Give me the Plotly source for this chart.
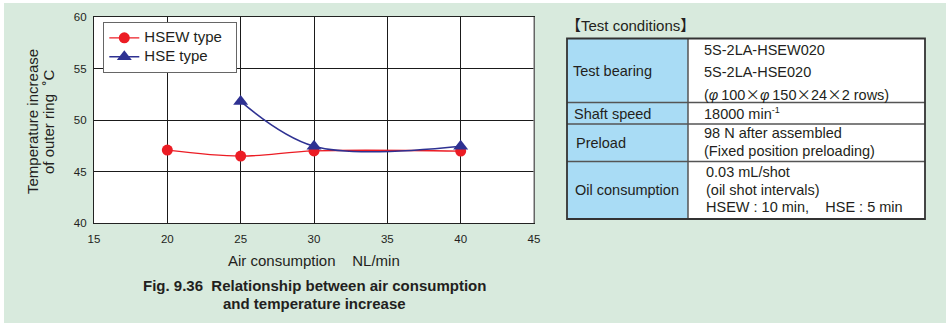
import plotly.graph_objects as go

# ---- data ----
air_hsew = [20, 25, 30, 40]
temp_hsew = [47.08, 46.5, 47.0, 46.98]
air_hse = [25, 30, 40]
temp_hse = [51.8, 47.45, 47.45]
x_ticks = [15, 20, 25, 30, 35, 40, 45]
y_ticks = [40, 45, 50, 55, 60]
series_names = ["HSEW type", "HSE type"]

CJK_X = "<span style='font-family:Noto Sans CJK JP'>×</span>"
table_title = "【Test conditions】"
row_labels = ["Test bearing", "Shaft speed", "Preload", "Oil consumption"]
row_values = [
    ["5S-2LA-HSEW020", "5S-2LA-HSE020",
     "(<i>φ</i>\u2009100" + CJK_X + "<i>φ</i>\u2009150" + CJK_X + "24" + CJK_X + "2 rows)"],
    ["18000 min<sup><span style='font-size:9px'>-1</span></sup>"],
    ["98 N after assembled", "(Fixed position preloading)"],
    ["0.03 mL/shot", "(oil shot intervals)",
     "HSEW : 10 min,\u00a0\u00a0\u00a0\u00a0HSE : 5 min"],
]
x_title = "Air consumption\u00a0\u00a0\u00a0\u00a0NL/min"
y_title_lines = ["Temperature increase", "of outer ring\u00a0\u00a0˚C"]
caption_lines = ["Fig. 9.36\u00a0\u00a0Relationship between air consumption",
                 "and temperature increase"]

# ---- page geometry (pixels) ----
W, H = 946, 323
PL, PR, PT, PB = 94, 534, 17, 223          # plot area edges
BG = "#d8eadd"
TXT = "#231f20"
FONT = "Liberation Sans, Arial, sans-serif"


def fx(px):
    return (px - PL) / (PR - PL)


def fy(py):
    return (PB - py) / (PB - PT)


def legend_label(name):
    # larger glyphs on a compact legend row
    return "<span style='font-size:15px'>" + name + "\u00a0\u00a0</span>"


fig = go.Figure()
fig.add_trace(go.Scatter(
    x=air_hsew, y=temp_hsew, name=legend_label(series_names[0]), mode="lines+markers",
    line=dict(color="#ec1c24", width=1.3, shape="spline"),
    marker=dict(symbol="circle", size=11, color="#ec1c24"),
))
fig.add_trace(go.Scatter(
    x=air_hse, y=temp_hse, name=legend_label(series_names[1]), mode="lines+markers",
    line=dict(color="#2e3192", width=1.6, shape="spline"),
    marker=dict(symbol="triangle-up", size=13, color="#2e3192"),
))

axis_common = dict(
    showgrid=True, gridcolor="#1a1a1a", gridwidth=1,
    showline=True, linecolor="#222", linewidth=1.3, mirror=True,
    zeroline=False, ticks="", tickfont=dict(size=11.5, color=TXT, family=FONT),
)
fig.update_xaxes(range=[15, 45], tickvals=x_ticks, ticklabelstandoff=5, **axis_common)
fig.update_yaxes(range=[40, 60], tickvals=y_ticks, ticklabelstandoff=4, **axis_common)

shapes = []
annotations = []

# white page edge
shapes.append(dict(type="rect", xref="paper", yref="paper", x0=fx(0), x1=fx(4),
                   y0=fy(0), y1=fy(H), fillcolor="white", line_width=0))
shapes.append(dict(type="rect", xref="paper", yref="paper", x0=fx(0), x1=fx(W),
                   y0=fy(0), y1=fy(3), fillcolor="white", line_width=0))
# lighter right border of the plot frame
shapes.append(dict(type="line", xref="paper", yref="paper", x0=1, x1=1, y0=0, y1=1,
                   line=dict(color="#8a8a8a", width=1.3), layer="above"))

# axis titles and caption
for i, line in enumerate(y_title_lines):
    annotations.append(dict(text=line, xref="paper", yref="paper",
                            x=fx(32 + 16 * i), y=fy(122), textangle=-90,
                            showarrow=False, xanchor="center", yanchor="middle",
                            font=dict(size=15, color=TXT, family=FONT)))
annotations.append(dict(text=x_title, xref="paper", yref="paper",
                        x=fx(314), y=fy(260), showarrow=False,
                        xanchor="center", yanchor="middle",
                        font=dict(size=15, color=TXT, family=FONT)))
for i, line in enumerate(caption_lines):
    annotations.append(dict(text="<b>" + line + "</b>", xref="paper", yref="paper",
                            x=fx(314), y=fy(285 + 18 * i), showarrow=False,
                            xanchor="center", yanchor="middle",
                            font=dict(size=15, color=TXT, family=FONT)))

# ---- test-conditions table ----
TL, TM, TR = 567, 688, 925
row_edges = [38.5, 102.5, 124, 161.5, 219]
label_x = [571, 572, 574, 573]
label_y = [70.7, 113.5, 143.3, 190]
value_y = [[50, 72, 93.5], [113.5], [133, 150.5], [171.7, 189.5, 207]]
value_x = [702, 702, 702, 704]

annotations.append(dict(text=table_title, xref="paper", yref="paper",
                        x=fx(564), y=fy(26), showarrow=False,
                        xanchor="left", yanchor="middle",
                        font=dict(size=15, color=TXT,
                                  family="Liberation Sans, Noto Sans CJK JP, sans-serif")))

shapes.append(dict(type="rect", xref="paper", yref="paper",
                   x0=fx(TL), x1=fx(TM), y0=fy(row_edges[0]), y1=fy(row_edges[-1]),
                   fillcolor="#a9dcf5", line_width=0))
shapes.append(dict(type="rect", xref="paper", yref="paper",
                   x0=fx(TM), x1=fx(TR), y0=fy(row_edges[0]), y1=fy(row_edges[-1]),
                   fillcolor="white", line_width=0))
for e in row_edges[1:-1]:
    shapes.append(dict(type="line", xref="paper", yref="paper",
                       x0=fx(TL), x1=fx(TR), y0=fy(e), y1=fy(e),
                       line=dict(color="#555", width=1.5)))
shapes.append(dict(type="line", xref="paper", yref="paper",
                   x0=fx(TM), x1=fx(TM), y0=fy(row_edges[0]), y1=fy(row_edges[-1]),
                   line=dict(color="#555", width=1.5)))
shapes.append(dict(type="rect", xref="paper", yref="paper",
                   x0=fx(TL), x1=fx(TR), y0=fy(row_edges[0]), y1=fy(row_edges[-1]),
                   line=dict(color="#333", width=1.8)))

for lab, lx, ly in zip(row_labels, label_x, label_y):
    annotations.append(dict(text=lab, xref="paper", yref="paper",
                            x=fx(lx), y=fy(ly), showarrow=False,
                            xanchor="left", yanchor="middle",
                            font=dict(size=14.5, color=TXT, family=FONT)))
for vals, ys, vx in zip(row_values, value_y, value_x):
    for v, vy in zip(vals, ys):
        annotations.append(dict(text=v, xref="paper", yref="paper",
                                x=fx(vx), y=fy(vy), showarrow=False,
                                xanchor="left", yanchor="middle",
                                font=dict(size=14.5, color=TXT, family=FONT)))

fig.update_layout(
    width=W, height=H, autosize=False,
    margin=dict(l=PL, r=W - PR, t=PT, b=H - PB, pad=0),
    paper_bgcolor=BG, plot_bgcolor="white",
    font=dict(family=FONT, color=TXT),
    showlegend=True,
    legend=dict(x=fx(103), y=fy(22), xanchor="left", yanchor="top",
                bgcolor="white", bordercolor="#666", borderwidth=1.3,
                font=dict(size=11, color=TXT, family=FONT),
                tracegroupgap=0, itemwidth=30),
    shapes=shapes, annotations=annotations,
)

fig.write_html("out.html")
